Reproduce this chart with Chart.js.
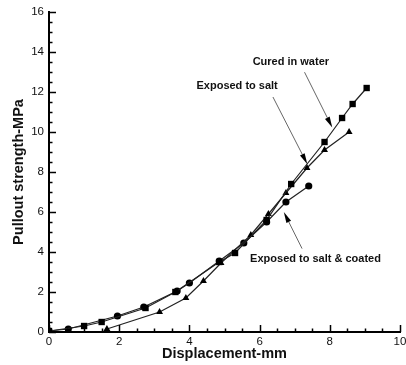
<!DOCTYPE html>
<html>
<head>
<meta charset="utf-8">
<script src="https://cdn.jsdelivr.net/npm/chart.js@4/dist/chart.umd.min.js"></script>
<style>
html,body{margin:0;padding:0;background:#fff;}
#wrap{width:406px;height:365px;position:relative;}
</style>
</head>
<body>
<div id="wrap"><canvas id="c" width="406" height="365"></canvas></div>
<script>
// ---- data ----
const seriesNames = ["Cured in water", "Exposed to salt", "Exposed to salt & coated"];
const curedX = [0, 1.0, 1.5, 2.75, 3.6, 4.85, 5.3, 6.2, 6.9, 7.85, 8.35, 8.65, 9.05];
const curedY = [0.05, 0.3, 0.5, 1.2, 2.0, 3.5, 3.95, 5.6, 7.4, 9.5, 10.7, 11.4, 12.2];
const saltX = [1.65, 3.15, 3.9, 4.4, 4.9, 5.75, 6.25, 6.75, 7.35, 7.85, 8.55];
const saltY = [0.15, 1.0, 1.7, 2.55, 3.45, 4.85, 5.9, 6.95, 8.2, 9.1, 10.0];
const coatedX = [0, 0.55, 1.95, 2.7, 3.65, 4.0, 4.85, 5.55, 6.2, 6.75, 7.4];
const coatedY = [0.05, 0.15, 0.8, 1.25, 2.05, 2.45, 3.55, 4.45, 5.5, 6.5, 7.3];
const xTicks = [0, 2, 4, 6, 8, 10];
const yTicks = [0, 2, 4, 6, 8, 10, 12, 14, 16];
const xTitle = "Displacement-mm";
const yTitle = "Pullout strength-MPa";

// annotation placement (data units)
const annotations = [
  {text: seriesNames[0], tx: 6.89, ty: 13.49, align: 'center', from: [7.28, 12.99], to: [8.07, 10.22]},
  {text: seriesNames[1], tx: 5.36, ty: 12.29, align: 'center', from: [6.38, 11.75], to: [7.36, 8.39]},
  {text: seriesNames[2], tx: 5.73, ty: 3.64, align: 'left', from: [7.21, 4.17], to: [6.69, 6.0]}
];

function pts(xs, ys){ return xs.map((x,i)=>({x:x, y:ys[i]})); }

Chart.defaults.font.family = "'Liberation Sans', Arial, sans-serif";
Chart.defaults.color = '#000';

const inwardTicks = {
  id: 'inwardTicks',
  afterDraw(chart){
    const ctx = chart.ctx, xs = chart.scales.x, ys = chart.scales.y;
    const a = chart.chartArea;
    ctx.save();
    ctx.strokeStyle = '#000';
    ctx.lineWidth = 1.5;
    ctx.beginPath();
    for (let v = 0; v <= 10.0001; v += 0.5) {
      const px = Math.round(xs.getPixelForValue(v)) + 0.5;
      const major = Math.abs(v/2 - Math.round(v/2)) < 1e-6;
      const len = major ? 7 : 3.5;
      ctx.moveTo(px, a.bottom);
      ctx.lineTo(px, a.bottom - len);
    }
    for (let v = 0; v <= 16.0001; v += 0.5) {
      const py = Math.round(ys.getPixelForValue(v)) + 0.5;
      const major = Math.abs(v/2 - Math.round(v/2)) < 1e-6;
      const len = major ? 7 : 3.5;
      ctx.moveTo(a.left, py);
      ctx.lineTo(a.left + len, py);
    }
    ctx.stroke();
    ctx.restore();
  }
};

const annot = {
  id: 'annot',
  afterDatasetsDraw(chart){
    const ctx = chart.ctx, xs = chart.scales.x, ys = chart.scales.y;
    ctx.save();
    annotations.forEach(an => {
      const x0 = xs.getPixelForValue(an.from[0]), y0 = ys.getPixelForValue(an.from[1]);
      const x1 = xs.getPixelForValue(an.to[0]), y1 = ys.getPixelForValue(an.to[1]);
      const ang = Math.atan2(y1 - y0, x1 - x0);
      const hl = 11, hw = 2.6;
      const bx = x1 - hl*Math.cos(ang), by = y1 - hl*Math.sin(ang);
      ctx.strokeStyle = '#666';
      ctx.lineWidth = 1;
      ctx.beginPath();
      ctx.moveTo(x0, y0);
      ctx.lineTo(bx, by);
      ctx.stroke();
      ctx.fillStyle = '#000';
      ctx.beginPath();
      ctx.moveTo(x1, y1);
      ctx.lineTo(bx + hw*Math.sin(ang), by - hw*Math.cos(ang));
      ctx.lineTo(bx - hw*Math.sin(ang), by + hw*Math.cos(ang));
      ctx.closePath();
      ctx.fill();
      ctx.font = "bold 11px 'Liberation Sans', Arial, sans-serif";
      ctx.textAlign = an.align;
      ctx.textBaseline = 'middle';
      ctx.fillStyle = '#111';
      ctx.fillText(an.text, xs.getPixelForValue(an.tx), ys.getPixelForValue(an.ty));
    });
    ctx.restore();
  }
};

const lineStyle = {borderColor:'#222', backgroundColor:'#000', borderWidth:1.2, tension:0, showLine:true, pointBorderWidth:0};

new Chart(document.getElementById('c'), {
  type: 'scatter',
  data: {
    datasets: [
      Object.assign({label: seriesNames[0], data: pts(curedX, curedY), pointStyle:'rect', pointRadius:4.5}, lineStyle),
      Object.assign({label: seriesNames[1], data: pts(saltX, saltY), pointStyle:'triangle', pointRadius:4}, lineStyle),
      Object.assign({label: seriesNames[2], data: pts(coatedX, coatedY), pointStyle:'circle', pointRadius:3.6}, lineStyle)
    ]
  },
  options: {
    responsive: false,
    animation: false,
    layout: {padding: {top: 12, right: 6, left: 0, bottom: 0}},
    plugins: {legend: {display:false}, tooltip: {enabled:false}},
    scales: {
      x: {
        type: 'linear', min: 0, max: 10,
        afterBuildTicks(s){ s.ticks = xTicks.map(v=>({value:v})); },
        afterFit(s){ s.height = 33; s.paddingRight = 0; s.paddingLeft = 0; },
        grid: {display:true, drawOnChartArea:false, drawTicks:false},
        border: {display:true, color:'#000', width:2},
        ticks: {padding: 3, font:{size:11.5}, color:'#111', maxRotation:0},
        title: {display:true, text:xTitle, font:{size:14.5, weight:'bold'}, color:'#111', padding:{top:0, bottom:2}}
      },
      y: {
        type: 'linear', min: 0, max: 16,
        afterBuildTicks(s){ s.ticks = yTicks.map(v=>({value:v})); },
        afterFit(s){ s.width = 49; },
        grid: {display:true, drawOnChartArea:false, drawTicks:false},
        border: {display:true, color:'#000', width:2},
        ticks: {padding: 5, font:{size:11.5}, color:'#111'},
        title: {display:true, text:yTitle, font:{size:14.5, weight:'bold'}, color:'#111', padding:{top:10, bottom:0}}
      }
    }
  },
  plugins: [annot, inwardTicks]
});
</script>
</body>
</html>
